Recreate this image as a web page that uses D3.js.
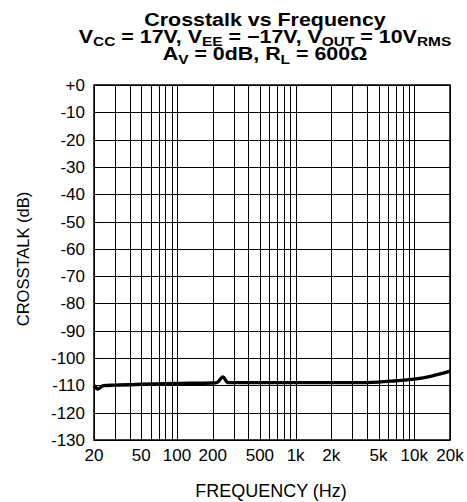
<!DOCTYPE html>
<html><head><meta charset="utf-8">
<script src="https://cdn.jsdelivr.net/npm/d3@7"></script>
<style>body{margin:0;background:#fff}svg{display:block}</style>
</head><body>
<svg id="c" width="467" height="502"></svg>
<script>
const freqs = [20, 21.6, 24, 30, 50, 100, 200, 217, 244, 268, 290, 500, 1000, 2000, 3000, 5000, 7000, 10000, 14000, 20000];
const crosstalk = [-110, -111.3, -110.1, -109.9, -109.6, -109.3, -109.1, -109, -106.9, -109, -109, -109, -109, -109, -109, -108.8, -108.3, -107.7, -106.6, -104.8];
const yTicks = [0, -10, -20, -30, -40, -50, -60, -70, -80, -90, -100, -110, -120, -130];
const yTickLabels = ["+0", "-10", "-20", "-30", "-40", "-50", "-60", "-70", "-80", "-90", "-100", "-110", "-120", "-130"];
const xGrid = [20,30,40,50,60,70,80,90,100,200,300,400,500,600,700,800,900,1000,2000,3000,4000,5000,6000,7000,8000,9000,10000,20000];
const xTicks = [20, 50, 100, 200, 500, 1000, 2000, 5000, 10000, 20000];
const xTickLabels = ["20", "50", "100", "200", "500", "1k", "2k", "5k", "10k", "20k"];

const svg = d3.select("#c");
const L = 94, R = 450, T = 85, B = 440;
const x = d3.scaleLog().domain([20, 20000]).range([L, R]);
const y = d3.scaleLinear().domain([-130, 0]).range([B, T]);
const font = "Liberation Sans, Arial, sans-serif";

// grid
svg.append("g").selectAll("line").data(xGrid).join("line")
  .attr("x1", d => Math.round(x(d)) + 0.5).attr("x2", d => Math.round(x(d)) + 0.5)
  .attr("y1", T).attr("y2", B).attr("stroke", "#000").attr("stroke-width", 1);
svg.append("g").selectAll("line").data(yTicks).join("line")
  .attr("x1", L).attr("x2", R)
  .attr("y1", d => Math.round(y(d)) + 0.5).attr("y2", d => Math.round(y(d)) + 0.5)
  .attr("stroke", "#000").attr("stroke-width", 1);
svg.append("rect").attr("x", L).attr("y", T).attr("width", R - L).attr("height", B - T)
  .attr("fill", "none").attr("stroke", "#000").attr("stroke-width", 1.5);

// axes labels
svg.append("g").selectAll("text").data(yTicks).join("text")
  .attr("x", L - 9).attr("y", d => y(d) + 6).attr("text-anchor", "end")
  .attr("font-family", font).attr("font-size", 17).text((d, i) => yTickLabels[i]);
svg.append("g").selectAll("text").data(xTicks).join("text")
  .attr("x", d => x(d)).attr("y", 461).attr("text-anchor", "middle")
  .attr("font-family", font).attr("font-size", 17).text((d, i) => xTickLabels[i]);

svg.append("text").attr("x", 271).attr("y", 497).attr("text-anchor", "middle")
  .attr("font-family", font).attr("font-size", 18).text("FREQUENCY (Hz)");
svg.append("text").attr("transform", "translate(29,259) rotate(-90)").attr("text-anchor", "middle")
  .attr("font-family", font).attr("font-size", 16.5).text("CROSSTALK (dB)");

// curve
const pts = freqs.map((f, i) => [f, crosstalk[i]]);
svg.append("path").datum(pts)
  .attr("d", d3.line().x(d => x(d[0])).y(d => y(d[1])).curve(d3.curveMonotoneX))
  .attr("fill", "none").attr("stroke", "#000").attr("stroke-width", 3.4).attr("stroke-linejoin", "miter");

// title
function titleLine(yPos, parts) {
  const t = svg.append("text").attr("transform", `translate(265,${yPos}) scale(1.19,1)`)
    .attr("x", 0).attr("y", 0).attr("text-anchor", "middle")
    .attr("font-family", font).attr("font-weight", "bold").attr("font-size", 18);
  let down = false;
  parts.forEach(p => {
    const sub = Array.isArray(p);
    const s = t.append("tspan").text(sub ? p[0] : p);
    if (sub) { s.attr("font-size", 13).attr("dy", down ? 0 : 3.5); down = true; }
    else { if (down) s.attr("dy", -3.5); down = false; }
  });
}
titleLine(26, ["Crosstalk vs Frequency"]);
titleLine(42.5, ["V", ["CC"], " = 17V, V", ["EE"], " = \u221217V, V", ["OUT"], " = 10V", ["RMS"]]);
titleLine(60, ["A", ["V"], " = 0dB, R", ["L"], " = 600\u03A9"]);
</script>
</body></html>
